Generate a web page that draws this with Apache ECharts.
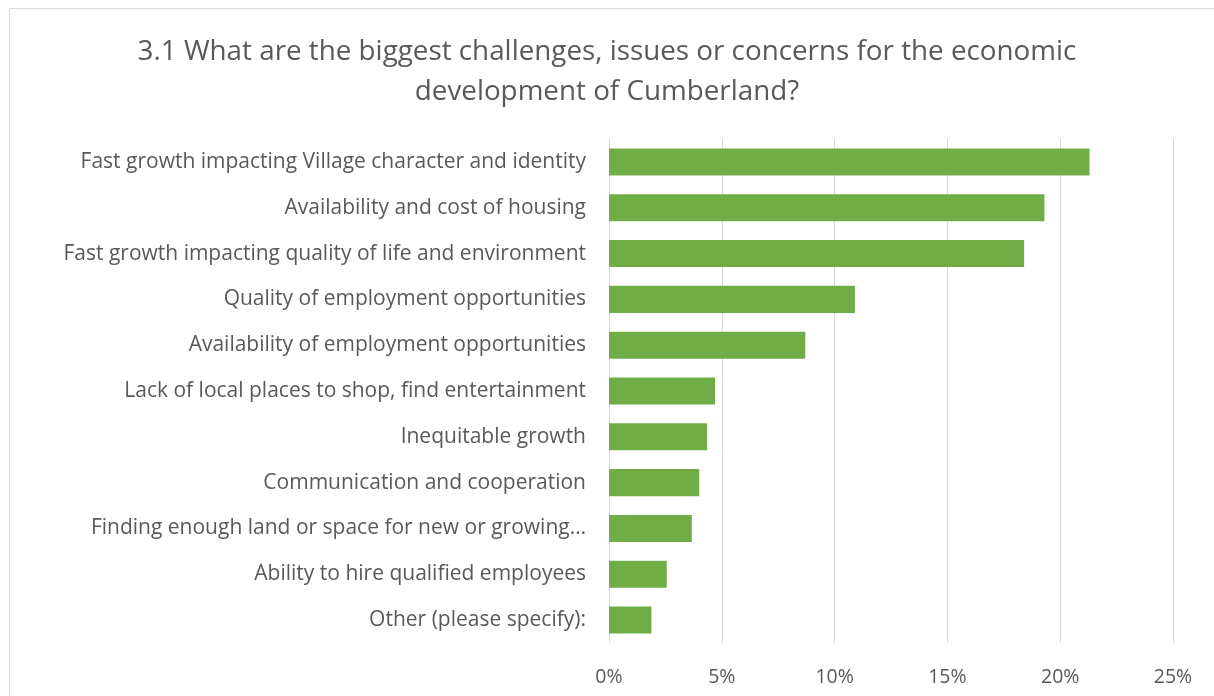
<!DOCTYPE html>
<html><head><meta charset="utf-8">
<script src="https://cdn.jsdelivr.net/npm/echarts@6/dist/echarts.min.js"></script>
<style>html,body{margin:0;padding:0;background:#fff}#c{width:1214px;height:696px}</style>
</head><body><div id="c"></div>
<script>
const titleText = "3.1 What are the biggest challenges, issues or concerns for the economic\ndevelopment of Cumberland?";
const categories = [
  "Fast growth impacting Village character and identity",
  "Availability and cost of housing",
  "Fast growth impacting quality of life and environment",
  "Quality of employment opportunities",
  "Availability of employment opportunities",
  "Lack of local places to shop, find entertainment",
  "Inequitable growth",
  "Communication and cooperation",
  "Finding enough land or space for new or growing…",
  "Ability to hire qualified employees",
  "Other (please specify):"
];
const values = [21.3, 19.3, 18.4, 10.9, 8.7, 4.7, 4.35, 4.0, 3.67, 2.56, 1.88];
const xTicks = [0, 5, 10, 15, 20, 25];

const FONT = "Open Sans";
const chart = echarts.init(document.getElementById('c'));
chart.setOption({
  animation: false,
  title: {
    text: titleText, left: 'center', top: 27,
    textStyle: { fontFamily: FONT, fontSize: 27.8, fontWeight: 'normal', color: '#595959', lineHeight: 40 }
  },
  graphic: [{
    type: 'rect', shape: { x: 9.5, y: 8.5, width: 1220, height: 700 },
    style: { fill: 'none', stroke: '#d9d9d9', lineWidth: 1 }, silent: true
  }],
  grid: { left: 609, right: 41, top: 139, bottom: 53 },
  xAxis: {
    type: 'value', min: 0, max: 25, interval: 5,
    axisLine: { show: false }, axisTick: { show: false },
    splitLine: { lineStyle: { color: '#d9d9d9', width: 1 } },
    axisLabel: { formatter: v => v + '%', fontFamily: FONT, fontSize: 19.5, color: '#595959', margin: 24 }
  },
  yAxis: {
    type: 'category', data: categories, inverse: true,
    axisLine: { show: true, lineStyle: { color: '#d9d9d9' } }, axisTick: { show: false },
    axisLabel: { fontFamily: FONT, fontSize: 21, color: '#595959', margin: 23 }
  },
  series: [{
    type: 'bar', data: values, barCategoryGap: '41%',
    itemStyle: { color: '#70AD47' }
  }]
});
</script></body></html>
